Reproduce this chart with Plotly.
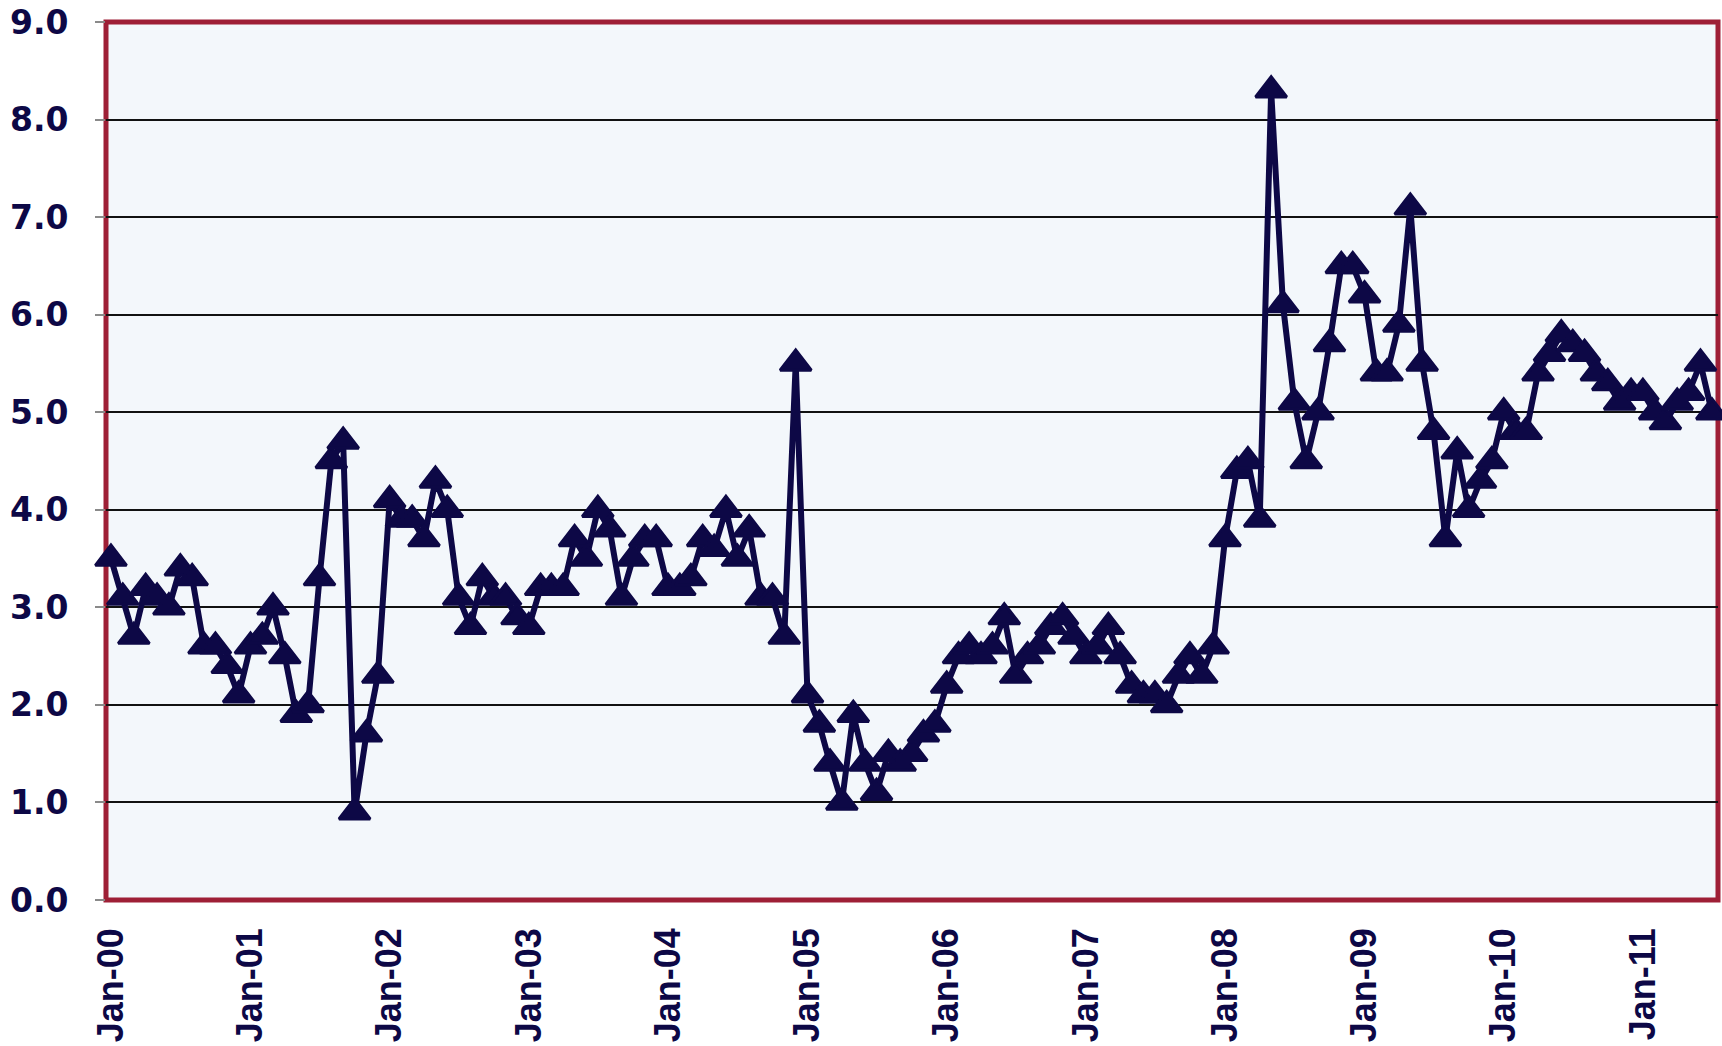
import pandas as pd
import plotly.graph_objects as go

# Monthly observations, Jan-2000 .. Jul-2011
v2000 = [3.5, 3.1, 2.7, 3.2, 3.1, 3.0, 3.4, 3.3, 2.6, 2.6, 2.4, 2.1]
v2001 = [2.6, 2.7, 3.0, 2.5, 1.9, 2.0, 3.3, 4.5, 4.7, 0.9, 1.7, 2.3]
v2002 = [4.1, 3.9, 3.9, 3.7, 4.3, 4.0, 3.1, 2.8, 3.3, 3.1, 3.1, 2.9]
v2003 = [2.8, 3.2, 3.2, 3.2, 3.7, 3.5, 4.0, 3.8, 3.1, 3.5, 3.7, 3.7]
v2004 = [3.2, 3.2, 3.3, 3.7, 3.6, 4.0, 3.5, 3.8, 3.1, 3.1, 2.7, 5.5]
v2005 = [2.1, 1.8, 1.4, 1.0, 1.9, 1.4, 1.1, 1.5, 1.4, 1.5, 1.7, 1.8]
v2006 = [2.2, 2.5, 2.6, 2.5, 2.6, 2.9, 2.3, 2.5, 2.6, 2.8, 2.9, 2.7]
v2007 = [2.5, 2.6, 2.8, 2.5, 2.2, 2.1, 2.1, 2.0, 2.3, 2.5, 2.3, 2.6]
v2008 = [3.7, 4.4, 4.5, 3.9, 8.3, 6.1, 5.1, 4.5, 5.0, 5.7, 6.5, 6.5]
v2009 = [6.2, 5.4, 5.4, 5.9, 7.1, 5.5, 4.8, 3.7, 4.6, 4.0, 4.3, 4.5]
v2010 = [5.0, 4.8, 4.8, 5.4, 5.6, 5.8, 5.7, 5.6, 5.4, 5.3, 5.1, 5.2]
v2011 = [5.2, 5.0, 4.9, 5.1, 5.2, 5.5, 5.0]

values = (v2000 + v2001 + v2002 + v2003 + v2004 + v2005 + v2006 + v2007
          + v2008 + v2009 + v2010 + v2011)
dates = pd.date_range("2000-01-01", periods=len(values), freq="MS")

y_ticks = [0, 1, 2, 3, 4, 5, 6, 7, 8, 9]

NAVY = "#0D0846"
RED = "#9E1F36"

fig = go.Figure()
fig.add_trace(go.Scatter(
    x=dates, y=values, mode="lines+markers",
    line=dict(color=NAVY, width=6),
    marker=dict(symbol="triangle-up", size=27, color=NAVY,
                line=dict(color=NAVY, width=3)),
    cliponaxis=False, showlegend=False,
))

fig.add_shape(type="rect", xref="paper", yref="paper", x0=0, x1=1, y0=0, y1=1,
              line=dict(color=RED, width=5), layer="between")

fig.update_layout(
    width=1722, height=1046,
    margin=dict(l=106, r=4, t=22, b=146),
    paper_bgcolor="white", plot_bgcolor="#F3F7FB",
    showlegend=False,
)
fig.update_xaxes(
    type="date", range=["1999-12-19", "2011-07-17"], automargin=False,
    tickformat="%b-%y", dtick="M12", tick0="2000-01-01",
    tickangle=-90, showgrid=False, zeroline=False, showline=False,
    ticks="", ticklabelstandoff=20,
    tickfont=dict(family="Liberation Sans Narrow, Liberation Sans, Arial, sans-serif",
                  size=36, color=NAVY, weight="bold"),
)
fig.update_yaxes(
    range=[0, 9], tickvals=y_ticks, tickformat=".1f", automargin=False,
    showgrid=True, gridcolor="#111111", gridwidth=1.5,
    zeroline=False, showline=False,
    ticks="outside", ticklen=10, tickcolor="#8A8A8A", tickwidth=2,
    ticklabelstandoff=20,
    tickfont=dict(family="DejaVu Sans, Verdana, sans-serif", size=33, color=NAVY, weight="bold"),
)

fig.write_html("out.html", config={"displayModeBar": False},
               post_script="document.body.style.margin='0';")
